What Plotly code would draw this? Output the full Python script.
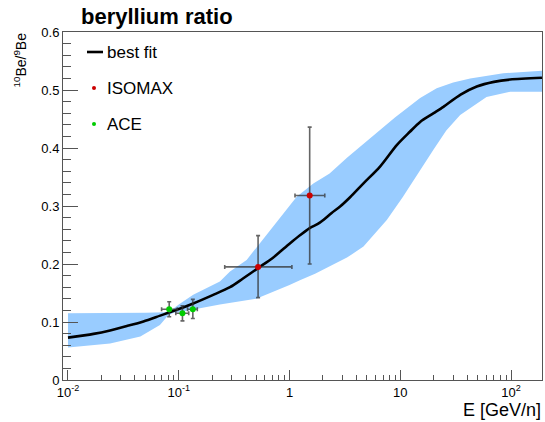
import plotly.graph_objects as go

# best-fit 10Be/9Be ratio vs kinetic energy per nucleon
fit_E = [0.01, 0.017, 0.024, 0.034, 0.048, 0.068, 0.096, 0.135, 0.2, 0.29, 0.38, 0.52,
         0.7, 0.82, 1.0, 1.25, 1.52, 1.8, 2.02, 2.4, 2.86, 3.52, 4.65, 6.56, 9.29, 12.2,
         15.1, 20.0, 24.5, 35.0, 49.0, 70.0, 98.0, 190.0]
fit_ratio = [0.073, 0.0795, 0.0855, 0.093, 0.101, 0.111, 0.121, 0.132, 0.146, 0.160, 0.175, 0.193,
             0.210, 0.221, 0.235, 0.250, 0.262, 0.269, 0.276, 0.288, 0.299, 0.315, 0.339, 0.368, 0.405, 0.428,
             0.445, 0.460, 0.471, 0.492, 0.506, 0.514, 0.518, 0.521]

# uncertainty band edges
band_hi_E = [0.01, 0.03, 0.05, 0.075, 0.085, 0.1, 0.135, 0.235, 0.29, 0.41, 0.667, 0.82, 1.16,
             1.64, 2.3, 3.3, 4.7, 6.56, 9.0, 12.2, 15.1, 21.3, 30.0, 42.7, 85.0, 190.0]
band_hi = [0.115, 0.115, 0.116, 0.117, 0.120, 0.130, 0.147, 0.170, 0.187, 0.207, 0.259, 0.280, 0.316,
           0.339, 0.356, 0.383, 0.407, 0.431, 0.453, 0.472, 0.486, 0.503, 0.513, 0.520, 0.529, 0.533]
band_lo_E = [0.01, 0.024, 0.045, 0.0676, 0.08, 0.09, 0.1, 0.235, 0.5, 1.0, 1.24, 1.7, 2.3, 3.3, 4.65,
             5.8, 7.55, 10.5, 15.1, 19.9, 26.0, 34.7, 60.0, 98.0, 190.0]
band_lo = [0.056, 0.063, 0.075, 0.095, 0.111, 0.116, 0.117, 0.130, 0.140, 0.164, 0.172, 0.183, 0.195, 0.211, 0.230,
           0.250, 0.276, 0.315, 0.362, 0.397, 0.430, 0.457, 0.488, 0.497, 0.497]

# ISOMAX measurements
isomax_E = [0.52, 1.52]
isomax_E_lo = [0.26, 1.12]
isomax_E_hi = [1.05, 2.08]
isomax_ratio = [0.195, 0.318]
isomax_ratio_lo = [0.142, 0.200]
isomax_ratio_hi = [0.249, 0.436]

# ACE measurements
ace_E = [0.082, 0.108, 0.134]
ace_E_lo = [0.070, 0.094, 0.120]
ace_E_hi = [0.097, 0.123, 0.147]
ace_ratio = [0.122, 0.115, 0.122]
ace_ratio_lo = [0.109, 0.102, 0.106]
ace_ratio_hi = [0.135, 0.128, 0.139]

x_tick_vals = [0.01, 0.1, 1, 10, 100]
x_tick_text = ["10<sup>-2</sup>", "10<sup>-1</sup>", "1", "10", "10<sup>2</sup>"]
x_minor_vals = [m * 10.0 ** d for d in range(-2, 3) for m in range(2, 10) if m * 10.0 ** d < 190]

FONT = "Liberation Sans, Arial, Helvetica, sans-serif"
BAND = "#99ccff"
ERR = "rgba(50,50,50,0.75)"

fig = go.Figure()

fig.add_trace(go.Scatter(
    x=band_hi_E + band_lo_E[::-1], y=band_hi + band_lo[::-1],
    fill="toself", fillcolor=BAND, line=dict(width=0), mode="lines",
    hoverinfo="skip", showlegend=False))

fig.add_trace(go.Scatter(
    x=fit_E, y=fit_ratio, mode="lines", name="best fit",
    line=dict(color="black", width=2.6, shape="spline", smoothing=0.8),
    showlegend=False))


def err(vals, lo, hi):
    return dict(plus=[h - v for v, h in zip(vals, hi)], minus=[v - l for v, l in zip(vals, lo)])


for xs, xl, xh, ys, yl, yh, col, nm in [
    (isomax_E, isomax_E_lo, isomax_E_hi, isomax_ratio, isomax_ratio_lo, isomax_ratio_hi, "#cc0000", "ISOMAX"),
    (ace_E, ace_E_lo, ace_E_hi, ace_ratio, ace_ratio_lo, ace_ratio_hi, "#00cc00", "ACE"),
]:
    ex = err(xs, xl, xh)
    ey = err(ys, yl, yh)
    fig.add_trace(go.Scatter(
        x=xs, y=ys, mode="markers", name=nm, showlegend=False,
        marker=dict(color=col, size=6),
        error_x=dict(type="data", symmetric=False, array=ex["plus"], arrayminus=ex["minus"],
                     color=ERR, thickness=1.6, width=2),
        error_y=dict(type="data", symmetric=False, array=ey["plus"], arrayminus=ey["minus"],
                     color=ERR, thickness=1.6, width=2)))

# legend drawn in paper space
L, T, W, H = 63, 32, 479, 348


def px(x):
    return (x - L) / W


def py(y):
    return 1 - (y - T) / H


shapes = [
    dict(type="line", xref="paper", yref="paper", x0=px(87), x1=px(103), y0=py(52), y1=py(52),
         line=dict(color="black", width=2.6)),
    dict(type="circle", xref="paper", yref="paper", x0=px(92), x1=px(96), y0=py(86), y1=py(90),
         fillcolor="#cc0000", line=dict(width=0)),
    dict(type="circle", xref="paper", yref="paper", x0=px(92), x1=px(96), y0=py(122), y1=py(126),
         fillcolor="#00cc00", line=dict(width=0)),
]

annotations = [
    dict(text="<b>beryllium ratio</b>", xref="paper", yref="paper", x=px(79), y=py(17),
         xanchor="left", yanchor="middle", showarrow=False, font=dict(size=22, color="black")),
    dict(text="<sup>10</sup>Be/<sup>9</sup>Be", xref="paper", yref="paper", x=px(20), y=py(31),
         xanchor="center", yanchor="top", textangle=-90, showarrow=False,
         font=dict(size=14, color="black")),
    dict(text="E [GeV/n]", xref="paper", yref="paper", x=px(543), y=py(410),
         xanchor="right", yanchor="middle", showarrow=False, font=dict(size=18, color="black")),
]
for label, yy in [("best fit", 52), ("ISOMAX", 88), ("ACE", 124)]:
    annotations.append(dict(text=label, xref="paper", yref="paper", x=px(105), y=py(yy),
                            xanchor="left", yanchor="middle", showarrow=False,
                            font=dict(size=17, color="black")))

fig.update_layout(
    width=545, height=422,
    margin=dict(l=L, r=545 - L - W, t=T, b=422 - T - H),
    paper_bgcolor="white", plot_bgcolor="white",
    font=dict(family=FONT, color="black"),
    showlegend=False, shapes=shapes, annotations=annotations,
    xaxis=dict(type="log", range=[-2.045, 2.279], tickvals=x_tick_vals, ticktext=x_tick_text,
               ticks="inside", ticklen=10, tickcolor="#555", tickwidth=1,
               minor=dict(tickvals=x_minor_vals, ticks="inside", ticklen=5, tickcolor="#555"),
               showline=True, linecolor="#555", linewidth=1, mirror=True,
               showgrid=False, zeroline=False, tickfont=dict(size=13)),
    yaxis=dict(range=[0, 0.6], tickvals=[0, 0.1, 0.2, 0.3, 0.4, 0.5, 0.6],
               ticktext=["0", "0.1", "0.2", "0.3", "0.4", "0.5", "0.6"],
               ticks="inside", ticklen=15, tickcolor="#555", tickwidth=1,
               minor=dict(dtick=0.02, ticks="inside", ticklen=8, tickcolor="#555"),
               showline=True, linecolor="#555", linewidth=1, mirror=True,
               showgrid=False, zeroline=False, tickfont=dict(size=13)),
)

fig.write_html("out.html")
